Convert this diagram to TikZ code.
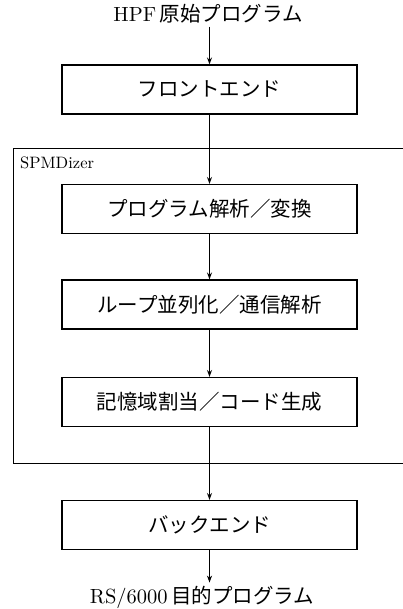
\documentclass[tikz,border=0pt]{standalone}
\usepackage{fontspec}
\setmainfont{lmroman10-regular.otf}
\newfontfamily\cjk{Noto Sans CJK JP}
\usetikzlibrary{arrows.meta}
\begin{document}
\begin{tikzpicture}[x=1pt,y=-1pt,
  stage/.style={draw,line width=1.1pt,minimum width=295pt,minimum height=49pt,inner sep=0pt,
    font=\fontsize{20.5}{20.5}\selectfont\cjk},
  flow/.style={line width=1.1pt,-{Stealth[length=7pt,width=5pt]}},
  frame/.style={line width=1pt},
  endtxt/.style={font=\fontsize{20.5}{20.5}\selectfont,inner sep=3pt},
  lbl/.style={font=\fontsize{16.5}{16.5}\selectfont,inner sep=0pt,anchor=west}]
\useasboundingbox (0,0) rectangle (403,609);
% frame
\coordinate (fr1) at (403,149);
\coordinate (fr2) at (13,149);
\coordinate (fr3) at (13,463);
\coordinate (fr4) at (403,463);
\draw[frame] (fr1) -- (fr2) -- (fr3) -- (fr4);
\node[lbl] (spmd) at (20,163) {SPMDizer};
% texts and stages
\node[endtxt] (src) at (208,14) {HPF\,{\cjk\fontsize{20.5}{20.5}\selectfont 原始プログラム}};
\node[stage] (fe) at (209.5,89.5) {フロントエンド};
\node[stage] (pa) at (209.5,209) {プログラム解析／変換};
\node[stage] (lp) at (209.5,304.5) {ループ並列化／通信解析};
\node[stage] (cg) at (209.5,402) {記憶域割当／コード生成};
\node[stage] (be) at (209.5,525) {バックエンド};
\node[endtxt] (tgt) at (202,597) {RS/6000\,{\cjk\fontsize{20.5}{20.5}\selectfont 目的プログラム}};
% connectors
\draw[flow] (src.south -| fe.north) -- (fe.north);
\draw[flow] (fe) -- (pa);
\draw[flow] (pa) -- (lp);
\draw[flow] (lp) -- (cg);
\draw[flow] (cg) -- (be);
\draw[flow] (be.south) -- (be.south |- tgt.north);
\end{tikzpicture}
\end{document}
